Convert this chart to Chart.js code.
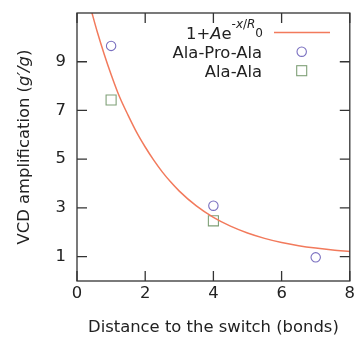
<!DOCTYPE html>
<html><head><meta charset="utf-8">
<script src="https://cdn.jsdelivr.net/npm/chart.js@4"></script>
<style>html,body{margin:0;padding:0;background:#fff;overflow:hidden}</style>
</head><body>
<canvas id="c" width="358" height="338"></canvas>
<script>
const FONT = "'DejaVu Sans', Verdana, sans-serif";
const xTicks = [0, 2, 4, 6, 8];
const yTicks = [1, 3, 5, 7, 9];
// fitted curve 1+A e^{-x/R0}
const curveX = [0.4, 0.6, 0.8, 1.0, 1.25, 1.5, 1.75, 2.0, 2.25, 2.5, 2.75, 3.0, 3.5, 4.0, 4.5, 5.0, 5.5, 6.0, 6.5, 7.0, 7.5, 8.0];
const curveY = [11.2, 10.2, 9.3, 8.48, 7.55, 6.8, 6.1, 5.5, 4.96, 4.48, 4.06, 3.69, 3.08, 2.61, 2.25, 1.97, 1.75, 1.58, 1.45, 1.35, 1.27, 1.21];
// Ala-Pro-Ala
const aproX = [1, 4, 7];
const aproY = [9.65, 3.09, 0.97];
// Ala-Ala
const aaX = [1, 4];
const aaY = [7.43, 2.47];
const seriesNames = ['1+Ae^{-x/R0}', 'Ala-Pro-Ala', 'Ala-Ala'];

const CURVE_COLOR = '#f27a5c';
const CIRCLE_COLOR = '#7a70c0';
const SQUARE_COLOR = '#7fa077';
const AXIS_COLOR = '#333';
const TEXT_COLOR = '#222';

const pts = (xs, ys) => xs.map((x, i) => ({x, y: ys[i]}));

const framePlugin = {
  id: 'frame',
  afterDatasetsDraw(chart) {
    const {ctx, chartArea: a, scales} = chart;
    ctx.save();
    ctx.strokeStyle = AXIS_COLOR;
    ctx.lineWidth = 1.3;
    ctx.strokeRect(a.left, a.top, a.right - a.left, a.bottom - a.top);
    ctx.beginPath();
    const L = 10;
    xTicks.forEach(v => {
      const px = scales.x.getPixelForValue(v);
      ctx.moveTo(px, a.bottom); ctx.lineTo(px, a.bottom - L);
      ctx.moveTo(px, a.top); ctx.lineTo(px, a.top + L);
    });
    yTicks.forEach(v => {
      const py = scales.y.getPixelForValue(v);
      ctx.moveTo(a.left, py); ctx.lineTo(a.left + L, py);
      ctx.moveTo(a.right, py); ctx.lineTo(a.right - L, py);
    });
    ctx.stroke();
    ctx.restore();
  }
};

function drawRuns(ctx, runs, startX) {
  let x = startX;
  runs.forEach(r => {
    ctx.font = r.font;
    ctx.fillText(r.t, x, r.y);
    x += ctx.measureText(r.t).width;
  });
}
function runsWidth(ctx, runs) {
  let w = 0;
  runs.forEach(r => { ctx.font = r.font; w += ctx.measureText(r.t).width; });
  return w;
}

const textPlugin = {
  id: 'texts',
  afterDraw(chart) {
    const {ctx, chartArea: a} = chart;
    ctx.save();
    ctx.fillStyle = TEXT_COLOR;
    const n = '16.4px ' + FONT, it = 'italic 16.4px ' + FONT;
    const yRuns = [
      {t: 'VCD amplification (', font: n, y: 0},
      {t: 'g′/g', font: it, y: 0},
      {t: ')', font: n, y: 0}
    ];
    ctx.translate(25, (a.top + a.bottom) / 2);
    ctx.rotate(-Math.PI / 2);
    ctx.textBaseline = 'middle';
    ctx.textAlign = 'left';
    drawRuns(ctx, yRuns, -runsWidth(ctx, yRuns) / 2);
    ctx.setTransform(1, 0, 0, 1, 0, 0);

    // legend
    ctx.textBaseline = 'alphabetic';
    const s = '12px ' + FONT, si = 'italic 12px ' + FONT;
    const rx = 263;
    const b1 = 39;
    const r1 = [
      {t: '1+', font: n, y: b1},
      {t: 'A', font: it, y: b1},
      {t: 'e', font: n, y: b1},
      {t: '-', font: s, y: 28},
      {t: 'x', font: si, y: 28},
      {t: '/', font: s, y: 28},
      {t: 'R', font: si, y: 28},
      {t: '0', font: s, y: 37}
    ];
    drawRuns(ctx, r1, rx - runsWidth(ctx, r1));
    ctx.font = n;
    ctx.textAlign = 'right';
    ctx.fillText(seriesNames[1], 262, 57.5);
    ctx.fillText(seriesNames[2], 262, 76.5);

    // legend markers
    ctx.strokeStyle = CURVE_COLOR;
    ctx.lineWidth = 1.5;
    ctx.beginPath(); ctx.moveTo(274, 32.5); ctx.lineTo(330, 32.5); ctx.stroke();
    ctx.strokeStyle = CIRCLE_COLOR;
    ctx.lineWidth = 1.1;
    ctx.beginPath(); ctx.arc(301.7, 51.7, 4.7, 0, Math.PI * 2); ctx.stroke();
    ctx.strokeStyle = SQUARE_COLOR;
    ctx.strokeRect(301.7 - 5, 70.7 - 5, 10, 10);
    ctx.restore();
  }
};

new Chart(document.getElementById('c'), {
  type: 'scatter',
  data: {
    datasets: [
      {
        label: seriesNames[0], type: 'line', data: pts(curveX, curveY),
        borderColor: CURVE_COLOR, borderWidth: 1.5, pointRadius: 0,
        cubicInterpolationMode: 'monotone', fill: false
      },
      {
        label: seriesNames[1], data: pts(aproX, aproY), pointStyle: 'circle',
        pointRadius: 4.7, borderColor: CIRCLE_COLOR, backgroundColor: 'rgba(0,0,0,0)', borderWidth: 1.1
      },
      {
        label: seriesNames[2], data: pts(aaX, aaY), pointStyle: 'rect',
        pointRadius: 7.1, borderColor: SQUARE_COLOR, backgroundColor: 'rgba(0,0,0,0)', borderWidth: 1.1
      }
    ]
  },
  options: {
    responsive: false, animation: false, devicePixelRatio: 1,
    layout: {padding: {top: 13, right: 6, left: 0, bottom: 0}},
    plugins: {legend: {display: false}, tooltip: {enabled: false}},
    scales: {
      x: {
        type: 'linear', min: 0, max: 8,
        afterBuildTicks: sc => { sc.ticks = xTicks.map(v => ({value: v})); },
        afterFit: sc => { sc.height = 57; sc.paddingLeft = 0; sc.paddingRight = 0; },
        grid: {display: false, drawTicks: false},
        border: {display: false},
        ticks: {font: {family: FONT, size: 16.4}, color: TEXT_COLOR, padding: 3, maxRotation: 0},
        title: {display: true, text: 'Distance to the switch (bonds)', font: {family: FONT, size: 16.4}, color: TEXT_COLOR, padding: 0}
      },
      y: {
        type: 'linear', min: 0, max: 11,
        afterBuildTicks: sc => { sc.ticks = yTicks.map(v => ({value: v})); },
        afterFit: sc => { sc.width = 77; sc.paddingTop = 0; sc.paddingBottom = 0; },
        grid: {display: false, drawTicks: false},
        border: {display: false},
        ticks: {font: {family: FONT, size: 16.4}, color: TEXT_COLOR, padding: 11},
        title: {display: false}
      }
    }
  },
  plugins: [framePlugin, textPlugin]
});
</script>
</body></html>
